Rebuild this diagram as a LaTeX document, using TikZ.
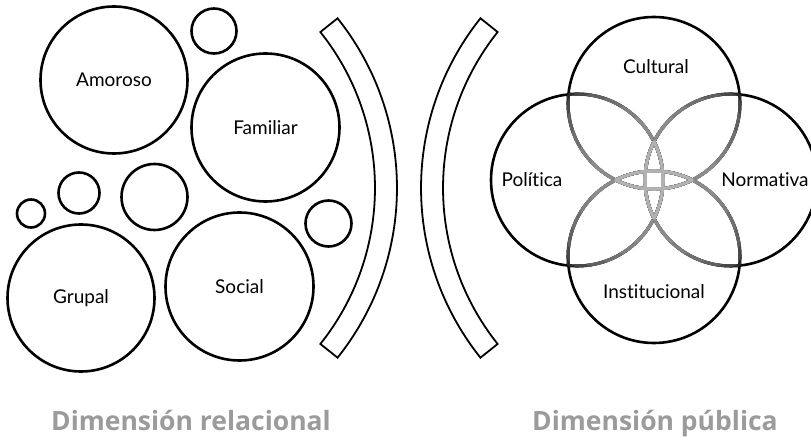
\documentclass[tikz,border=0pt]{standalone}
\usepackage{fontspec}
\setmainfont{Lato}[Ligatures=NoCommon]
\newfontfamily\titlefont{Open Sans}
\usepackage{tikz}
\definecolor{DMgray}{RGB}{155,155,155}
\tikzset{
  ring/.style={circle,draw=black,line width=2.6pt,inner sep=0pt,font=\fontsize{19}{22}\selectfont},
  ringline/.style={draw=black,line width=2.6pt},
  shade/.style={line width=3.1pt},
  band/.style={draw=black,line width=1.8pt,line join=miter},
  lbl/.style={font=\fontsize{19}{22}\selectfont,inner sep=0pt},
  dimtitle/.style={font=\titlefont\fontsize{26.5}{30}\selectfont\bfseries,text=DMgray,anchor=base,inner sep=0pt},
}

\begin{document}
\begin{tikzpicture}[x=1pt,y=1pt]
  \useasboundingbox[fill=white] (0,0) rectangle (811,439);

  % relational side: loose bubbles
  \node[ring,minimum size=147] (amor) at (114,359) {Amoroso};
  \node[ring,minimum size=148] (fam) at (265.5,311.5) {Familiar};
  \node[ring,minimum size=147] (grup) at (81,141) {Grupal};
  \node[ring,minimum size=148] (soc) at (239.5,152.5) {Social};
  \node[ring,minimum size=45] (b1) at (214,408) {};
  \node[ring,minimum size=66] (b2) at (154.5,242) {};
  \node[ring,minimum size=41] (b3) at (79,246) {};
  \node[ring,minimum size=28] (b4) at (31,225.5) {};
  \node[ring,minimum size=46] (b5) at (328.5,215.5) {};

  % the two brackets
  \coordinate (lc) at (125,251);
  \coordinate (rc) at (693,251);
  \draw[band] ([shift={(38.6:272)}]lc) arc[start angle=38.6,end angle=-38.6,radius=272]
    -- ([shift={(-38.6:250)}]lc) arc[start angle=-38.6,end angle=38.6,radius=250] -- cycle;
  \draw[band] ([shift={(141.4:272)}]rc) arc[start angle=141.4,end angle=218.6,radius=272]
    -- ([shift={(218.6:250)}]rc) arc[start angle=218.6,end angle=141.4,radius=250] -- cycle;

  % public side: four overlapping rings
  \coordinate (mid) at (654,259);
  \coordinate (cul) at (654,336);
  \coordinate (pol) at (577,259);
  \coordinate (nor) at (731,259);
  \coordinate (ins) at (654,182);
  \foreach \ca in {cul,pol,nor,ins}
    \draw[ringline] (\ca) circle[radius=86];
  % parts lying inside one other ring turn grey
  \foreach \ca/\cb in {cul/pol,cul/nor,cul/ins,pol/cul,pol/nor,pol/ins,
                       nor/cul,nor/pol,nor/ins,ins/cul,ins/pol,ins/nor}{
    \begin{scope}
      \clip (\cb) circle[radius=86];
      \foreach \rr/\tn in {124/84,117/72,108/62,95/56,80/50,65/45}{
        \begin{scope}
          \clip (mid) circle[radius=\rr];
          \draw[shade,draw=black!\tn] (\ca) circle[radius=86];
        \end{scope}
      }
    \end{scope}
  }
  % and lighter where two others cover them
  \foreach \ca/\cb/\cc in {cul/pol/nor,cul/pol/ins,cul/nor/ins,pol/cul/nor,pol/cul/ins,pol/nor/ins,
                           nor/cul/pol,nor/cul/ins,nor/pol/ins,ins/cul/pol,ins/cul/nor,ins/pol/nor}{
    \begin{scope}
      \clip (\cb) circle[radius=86];
      \clip (\cc) circle[radius=86];
      \draw[shade,draw=black!30] (\ca) circle[radius=86];
    \end{scope}
  }
  \node[lbl] (tcul) at (656,372) {Cultural};
  \node[lbl] (tpol) at (532,259) {Política};
  \node[lbl] (tnor) at (765,259) {Normativa};
  \node[lbl] (tins) at (654,147) {Institucional};

  \node[dimtitle] (trel) at (191,9) {Dimensión relacional};
  \node[dimtitle] (tpub) at (655,9) {Dimensión pública};
\end{tikzpicture}
\end{document}
